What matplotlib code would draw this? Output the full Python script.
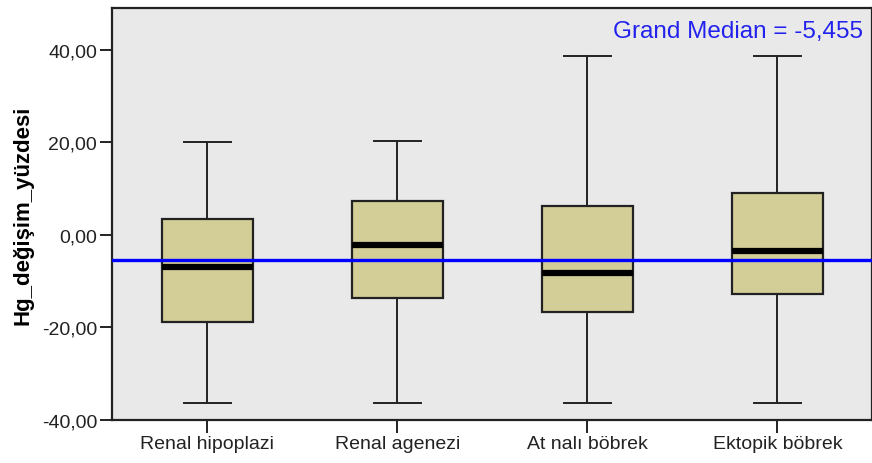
import matplotlib.pyplot as plt
import matplotlib.ticker as mticker

# Box plot values
groups = ['Renal hipoplazi', 'Renal agenezi', 'At nalı böbrek', 'Ektopik böbrek']
whisker_low = [-36.4, -36.4, -36.4, -36.4]
q1 = [-18.8, -13.6, -16.7, -12.7]
medians = [-6.9, -2.25, -8.3, -3.5]
q3 = [3.5, 7.4, 6.2, 9.1]
whisker_high = [20.1, 20.2, 38.6, 38.6]
grand_median = -5.455

plt.rcParams['font.family'] = ['Liberation Sans', 'DejaVu Sans']

stats = []
for i in range(len(groups)):
    stats.append({'label': groups[i], 'whislo': whisker_low[i], 'q1': q1[i],
                  'med': medians[i], 'q3': q3[i], 'whishi': whisker_high[i],
                  'fliers': []})

fig = plt.figure(figsize=(8.72, 4.64), dpi=100)
ax = fig.add_axes([0.129, 0.0927, 0.8715, 0.888])
ax.set_facecolor('#E9E9E9')

ax.bxp(stats, positions=range(len(groups)), widths=0.48, patch_artist=True,
       showfliers=False,
       boxprops=dict(facecolor='#D3CD98', edgecolor='#222222', linewidth=1.6),
       medianprops=dict(color='black', linewidth=4.5),
       whiskerprops=dict(color='#222222', linewidth=1.4),
       capprops=dict(color='#222222', linewidth=1.4),
       capwidths=0.25, zorder=2)

# grand median reference line
ax.axhline(grand_median, color='#0000FF', linewidth=2.4, zorder=3)
ax.text(0.988, 0.945, 'Grand Median = -5,455',
        transform=ax.transAxes, ha='right', va='center', color='#2222EE', fontsize=17.5)

ax.set_xlim(-0.5, 3.5)
ax.set_ylim(-40, 49)
ax.set_yticks([-40, -20, 0, 20, 40])
ax.yaxis.set_major_formatter(mticker.FuncFormatter(lambda v, p: f'{v:.2f}'.replace('.', ',')))
ax.set_xticks(range(len(groups)))
ax.set_xticklabels(groups)
ax.tick_params(axis='both', labelsize=14, length=9, width=1.4, color='#222222', labelcolor='#222222', pad=2)
ax.set_ylabel('Hg_değişim_yüzdesi', fontsize=16, fontweight='bold', labelpad=6)

for side in ['left', 'bottom', 'top', 'right']:
    ax.spines[side].set_color('#222222')
    ax.spines[side].set_linewidth(1.6)

fig.savefig('out.png', dpi=100)
